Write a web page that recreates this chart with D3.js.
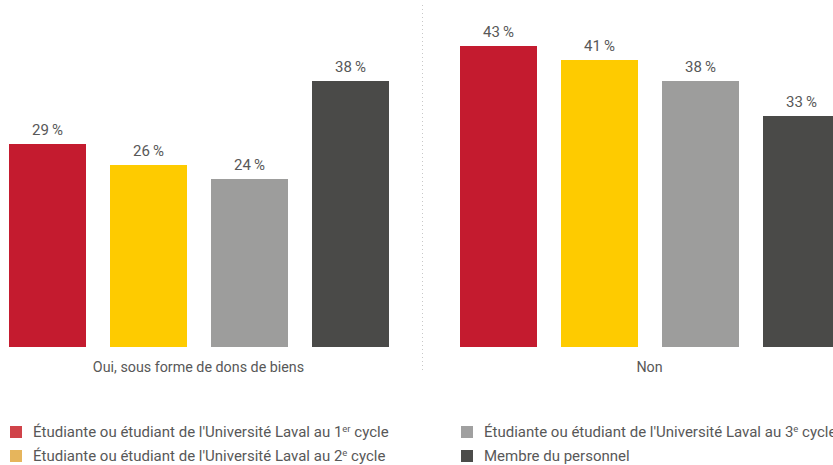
<!DOCTYPE html>
<html><head><meta charset="utf-8">
<script src="https://cdn.jsdelivr.net/npm/d3@7"></script>
<style>
html,body{margin:0;padding:0;background:#fff;}
svg{display:block;font-family:Roboto, "Noto Sans", sans-serif;}
</style></head>
<body><svg id="chart" width="833" height="465"></svg>
<script>
const categories = ["Oui, sous forme de dons de biens", "Non"];
const seriesNames = [
  "Étudiante ou étudiant de l'Université Laval au 1|er| cycle",
  "Étudiante ou étudiant de l'Université Laval au 2|e| cycle",
  "Étudiante ou étudiant de l'Université Laval au 3|e| cycle",
  "Membre du personnel"
];
const valuesYear1 = [29, 43];
const valuesYear2 = [26, 41];
const valuesYear3 = [24, 38];
const valuesStaff = [38, 33];
const seriesValues = [valuesYear1, valuesYear2, valuesYear3, valuesStaff];
const barColors = ["#c41b2f", "#fecb00", "#9d9d9c", "#4a4a48"];
const legendColors = ["#d04349", "#e6b55c", "#a0a0a0", "#4c4c4a"];

const svg = d3.select("#chart");
const baseY = 347;
const x0 = d3.scaleBand().domain(categories).range([-27, 875]);
const x1 = d3.scaleBand().domain(d3.range(seriesNames.length)).range([36, 416]).paddingInner(24/101);
const y = d3.scaleLinear().domain([0, 43]).range([baseY, 46]);

// separator
svg.append("line")
  .attr("x1", x0("Non") - 1.5).attr("x2", x0("Non") - 1.5)
  .attr("y1", 5).attr("y2", 373)
  .attr("stroke", "#c8c8c8").attr("stroke-width", 1)
  .attr("stroke-dasharray", "1,3");

const groups = svg.selectAll("g.grp").data(categories).join("g")
  .attr("class", "grp")
  .attr("transform", d => `translate(${x0(d)},0)`);

groups.each(function(cat, ci) {
  const g = d3.select(this);
  seriesValues.forEach((vals, si) => {
    const v = vals[ci];
    g.append("rect")
      .attr("x", x1(si)).attr("width", x1.bandwidth())
      .attr("y", y(v)).attr("height", baseY - y(v))
      .attr("fill", barColors[si]);
    g.append("text")
      .attr("x", x1(si) + x1.bandwidth()/2)
      .attr("y", y(v) - 9)
      .attr("text-anchor", "middle")
      .attr("font-size", 15)
      .attr("fill", "#585858")
      .text(v + "\u2009%");
  });
  g.append("text")
    .attr("x", x0.bandwidth()/2)
    .attr("y", 372)
    .attr("text-anchor", "middle")
    .attr("font-size", 14.3)
    .attr("fill", "#585858")
    .text(cat);
});

// legend
const legendPos = [[10, 426], [10, 450], [461, 426], [461, 450]];
seriesNames.forEach((name, i) => {
  const [lx, ly] = legendPos[i];
  svg.append("rect").attr("x", lx).attr("y", ly).attr("width", 12).attr("height", 12)
    .attr("fill", legendColors[i]);
  const t = svg.append("text").attr("x", lx + 23).attr("y", ly + 11)
    .attr("font-size", 15).attr("fill", "#585858");
  const parts = name.split("|");
  t.append("tspan").text(parts[0]);
  if (parts.length > 1) {
    t.append("tspan").attr("dy", -5).attr("font-size", 9.5).text(parts[1]);
    t.append("tspan").attr("dy", 5).text(parts[2]);
  }
});
</script></body></html>
